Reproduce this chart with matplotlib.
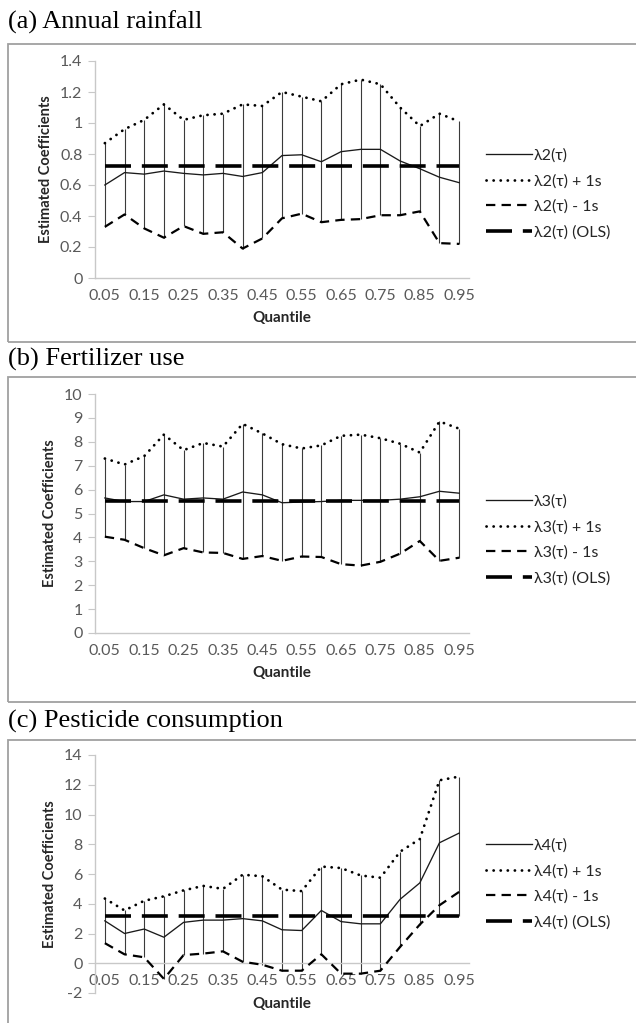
import numpy as np
import matplotlib
matplotlib.use("Agg")
import matplotlib.pyplot as plt
from matplotlib.patches import Rectangle
from matplotlib.ticker import FuncFormatter

quantiles = ["0.05", "0.1", "0.15", "0.2", "0.25", "0.3", "0.35", "0.4", "0.45", "0.5",
             "0.55", "0.6", "0.65", "0.7", "0.75", "0.8", "0.85", "0.9", "0.95"]

# (a) Annual rainfall
rain_est = [0.60, 0.68, 0.67, 0.69, 0.675, 0.665, 0.675, 0.655, 0.68, 0.79,
            0.795, 0.75, 0.815, 0.83, 0.83, 0.755, 0.705, 0.65, 0.615]
rain_up = [0.87, 0.96, 1.02, 1.12, 1.02, 1.05, 1.06, 1.12, 1.11, 1.20,
           1.17, 1.14, 1.25, 1.28, 1.25, 1.10, 0.98, 1.06, 1.01]
rain_lo = [0.33, 0.41, 0.32, 0.26, 0.335, 0.285, 0.295, 0.19, 0.255, 0.385,
           0.415, 0.36, 0.375, 0.38, 0.405, 0.405, 0.43, 0.225, 0.22]
rain_ols = 0.725

# (b) Fertilizer use
fert_est = [5.65, 5.5, 5.5, 5.78, 5.6, 5.65, 5.6, 5.9, 5.78, 5.45,
            5.48, 5.5, 5.55, 5.55, 5.55, 5.6, 5.7, 5.93, 5.85]
fert_up = [7.3, 7.05, 7.4, 8.3, 7.65, 7.95, 7.8, 8.75, 8.35, 7.9,
           7.72, 7.85, 8.25, 8.3, 8.15, 7.92, 7.55, 8.85, 8.55]
fert_lo = [4.03, 3.9, 3.55, 3.25, 3.55, 3.37, 3.35, 3.1, 3.22, 3.02,
           3.2, 3.18, 2.88, 2.82, 2.98, 3.32, 3.85, 3.02, 3.15]
fert_ols = 5.53

# (c) Pesticide consumption
pest_est = [2.85, 2.0, 2.3, 1.75, 2.75, 2.9, 2.9, 3.0, 2.85, 2.25,
            2.2, 3.55, 2.8, 2.65, 2.65, 4.3, 5.4, 8.1, 8.75]
pest_up = [4.35, 3.55, 4.2, 4.5, 4.9, 5.2, 5.0, 5.95, 5.85, 4.95,
           4.85, 6.5, 6.4, 5.9, 5.75, 7.5, 8.35, 12.3, 12.55]
pest_lo = [1.35, 0.6, 0.4, -1.05, 0.55, 0.65, 0.8, 0.1, -0.1, -0.5,
           -0.5, 0.6, -0.7, -0.7, -0.5, 1.1, 2.6, 3.9, 4.8]
pest_ols = 3.2

captions = ["(a) Annual rainfall", "(b) Fertilizer use", "(c) Pesticide consumption"]
symbols = ["\u03bb2(\u03c4)", "\u03bb3(\u03c4)", "\u03bb4(\u03c4)"]

SANS = ["Lato", "DejaVu Sans"]
W, H = 636, 1023
fig = plt.figure(figsize=(W / 100, H / 100), dpi=100)

def fx(px):
    return px / W

def fy(py):
    return 1 - py / H

panels = [
    dict(est=rain_est, up=rain_up, lo=rain_lo, ols=rain_ols, ylim=(0, 1.4), step=0.2,
         top=61, bot=278, box=(44, 342), cap_y=22, leg_y=194),
    dict(est=fert_est, up=fert_up, lo=fert_lo, ols=fert_ols, ylim=(0, 10), step=1,
         top=394, bot=633, box=(377, 702), cap_y=359, leg_y=540),
    dict(est=pest_est, up=pest_up, lo=pest_lo, ols=pest_ols, ylim=(-2, 14), step=2,
         top=755, bot=993, box=(740, 1030), cap_y=721, leg_y=884),
]

ax_left, ax_right = 95, 469
grey_axis = "#c8c8c8"
grey_text = "#595959"

for i, p in enumerate(panels):
    # frame box and caption
    b0, b1 = p["box"]
    fig.patches.append(Rectangle((fx(8), fy(b1)), fx(700), fy(b0) - fy(b1),
                                 transform=fig.transFigure, fill=False,
                                 edgecolor="#a0a0a0", linewidth=1.3))
    fig.text(fx(8), fy(p["cap_y"]), captions[i], family="Liberation Serif",
             fontsize=19, va="center", ha="left", color="black")

    ax = fig.add_axes([fx(ax_left), fy(p["bot"]), fx(ax_right - ax_left),
                       fy(p["top"]) - fy(p["bot"])])
    x = np.arange(1, len(quantiles) + 1)
    est = np.array(p["est"]); up = np.array(p["up"]); lo = np.array(p["lo"])
    ols = np.full(len(quantiles), p["ols"])
    allv = np.vstack([est, up, lo, ols])
    ax.vlines(x, allv.min(axis=0), allv.max(axis=0), color="#3a3a3a", linewidth=0.8, zorder=2)
    l1, = ax.plot(x, est, color="#1a1a1a", linewidth=0.95, zorder=3)
    l2, = ax.plot(x, up, color="black", linewidth=2.0, linestyle=(0, (0.05, 2.5)),
                  dash_capstyle="round", zorder=3)
    l3, = ax.plot(x, lo, color="black", linewidth=1.6, linestyle=(0, (4.2, 2.8)), zorder=3)
    l4, = ax.plot(x, ols, color="black", linewidth=2.6, linestyle=(0, (7.2, 3.0)), zorder=3)

    ax.set_xlim(0.5, len(quantiles) + 0.5)
    ax.set_ylim(*p["ylim"])
    yt = np.arange(p["ylim"][0], p["ylim"][1] + p["step"] / 2, p["step"])
    ax.set_yticks(yt)
    ax.yaxis.set_major_formatter(FuncFormatter(lambda v, pos: f"{round(v, 2):g}"))
    ax.set_xticks(x[::2])
    ax.set_xticklabels(quantiles[::2])
    for s in ["top", "right"]:
        ax.spines[s].set_visible(False)
    for s in ["left", "bottom"]:
        ax.spines[s].set_color(grey_axis)
        ax.spines[s].set_linewidth(1.0)
    ax.spines["bottom"].set_position(("data", 0))
    ax.tick_params(axis="y", length=5, color=grey_axis, labelsize=11.5, labelcolor=grey_text, pad=4)
    ax.tick_params(axis="x", length=0, labelsize=11.5, labelcolor=grey_text, pad=8)
    for t in ax.get_xticklabels() + ax.get_yticklabels():
        t.set_family(SANS)
    ax.set_ylabel("Estimated Coefficients", family=SANS, fontsize=10.5, fontweight="bold",
                  color="#262626", labelpad=5)
    ax.set_xlabel("Quantile", family=SANS, fontsize=11, fontweight="bold",
                  color="#262626", labelpad=6)
    ax.set_facecolor("none")

    sym = symbols[i]
    leg = fig.legend([l1, l2, l3, l4],
                     [sym, sym + " + 1s", sym + " - 1s", sym + " (OLS)"],
                     loc="center left", bbox_to_anchor=(fx(486), fy(p["leg_y"])),
                     frameon=False, borderpad=0, borderaxespad=0, handlelength=2.9,
                     handletextpad=0.1, labelspacing=0.7,
                     prop=dict(family=SANS, size=11.5))
    for t in leg.get_texts():
        t.set_color("#262626")

fig.savefig("out.png", dpi=100, facecolor="white")
